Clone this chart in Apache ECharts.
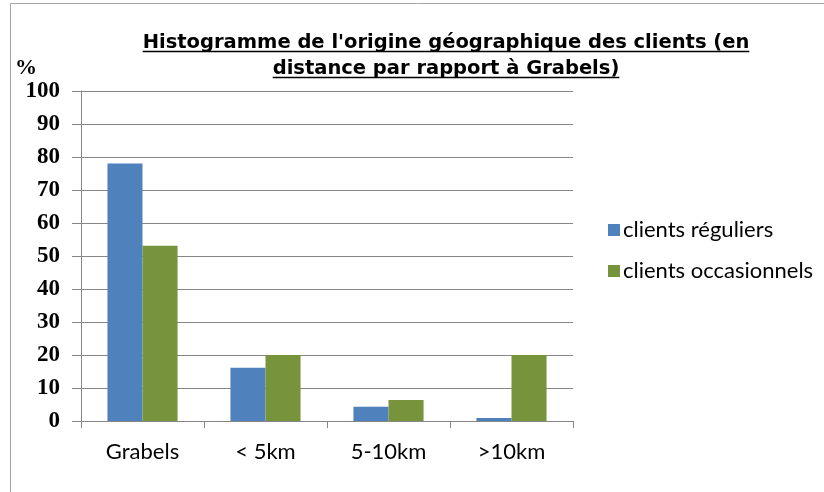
<!DOCTYPE html>
<html><head><meta charset="utf-8">
<script src="https://cdn.jsdelivr.net/npm/echarts@6/dist/echarts.min.js"></script>
<style>html,body{margin:0;padding:0;background:#fff}#c{width:824px;height:492px}</style>
</head><body><div id="c"></div>
<script>
const categories = ['Grabels', '< 5km', '5-10km', '>10km'];
const reguliers = [78, 16.1, 4.3, 0.9];
const occasionnels = [53.1, 20, 6.4, 20];
const seriesNames = ['clients réguliers', 'clients occasionnels'];
const titleLines = ["Histogramme de l'origine géographique des clients (en", "distance par rapport à Grabels)"];

const titleFamily = '"DejaVu Sans", Verdana, sans-serif';
const titleSize = 19.5;
const cv = document.createElement('canvas').getContext('2d');
cv.font = 'bold ' + titleSize + 'px ' + titleFamily;
const cx = 446, lineY = [51.5, 77.5];
const titleGraphics = [];
titleLines.forEach((t, i) => {
  const w = cv.measureText(t).width;
  titleGraphics.push({type: 'text', style: {text: t, x: cx, y: lineY[i] + 1.5, textAlign: 'center', textVerticalAlign: 'bottom',
    fontFamily: titleFamily, fontSize: titleSize, fontWeight: 'bold', fill: '#000'}});
  titleGraphics.push({type: 'line', shape: {x1: cx - w / 2, y1: lineY[i], x2: cx + w / 2, y2: lineY[i]}, style: {stroke: '#000', lineWidth: 1.5}});
});

const chart = echarts.init(document.getElementById('c'));
chart.setOption({
  animation: false,
  backgroundColor: '#fff',
  graphic: [
    {type: 'polyline', shape: {points: [[10.5, 492], [10.5, 3.5], [824, 3.5]]}, style: {stroke: '#a6a6a6', lineWidth: 1, fill: null}},
    ...titleGraphics
  ],
  legend: {
    orient: 'vertical', left: 603, top: 214, itemWidth: 12, itemHeight: 12, itemGap: 19,
    icon: 'rect', data: seriesNames,
    textStyle: {fontFamily: 'Lato, "Open Sans", sans-serif', fontSize: 22, color: '#000', padding: [0, 0, 0, -2]}
  },
  grid: {left: 81, right: 251, top: 91, bottom: 71},
  xAxis: {
    type: 'category', data: categories,
    axisLine: {lineStyle: {color: '#868686'}},
    axisTick: {show: true, length: 7, lineStyle: {color: '#868686'}},
    axisLabel: {fontFamily: 'Lato, "Open Sans", sans-serif', fontSize: 22, color: '#000', margin: 20}
  },
  yAxis: {
    type: 'value', min: 0, max: 100, interval: 10,
    name: '%', nameLocation: 'end', nameGap: -4,
    nameTextStyle: {fontFamily: '"Liberation Serif", "Times New Roman", serif', fontSize: 22, fontWeight: 'bold', color: '#000', align: 'right', padding: [0, 44, 0, 0]},
    axisLine: {show: true, lineStyle: {color: '#868686'}},
    axisTick: {show: true, length: 9, lineStyle: {color: '#868686'}},
    splitLine: {lineStyle: {color: '#868686'}},
    axisLabel: {fontFamily: '"Liberation Serif", "Times New Roman", serif', fontSize: 23, fontWeight: 'bold', color: '#000', margin: 21}
  },
  series: [
    {name: seriesNames[0], type: 'bar', data: reguliers, itemStyle: {color: '#4F81BD'}, barGap: '0%', barCategoryGap: '43%'},
    {name: seriesNames[1], type: 'bar', data: occasionnels, itemStyle: {color: '#77933C'}, barGap: '0%', barCategoryGap: '43%'}
  ]
});
</script></body></html>
